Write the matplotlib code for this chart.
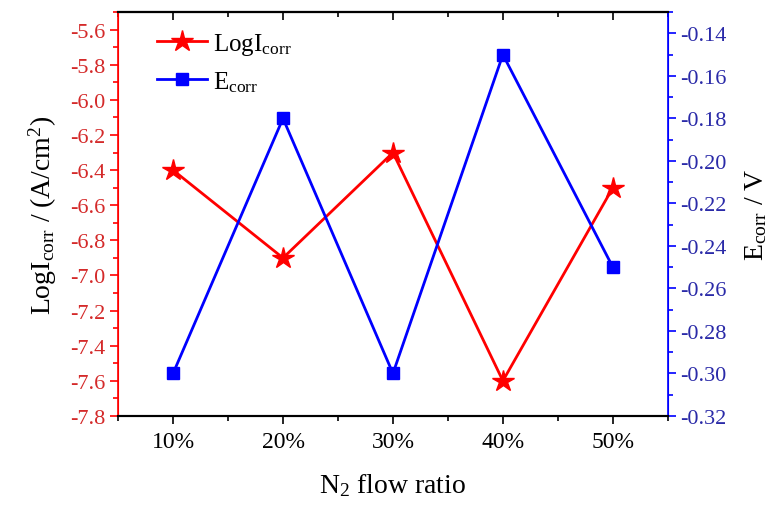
import matplotlib
matplotlib.use("Agg")
import matplotlib.pyplot as plt
from matplotlib.ticker import MultipleLocator, AutoMinorLocator

plt.rcParams['font.family'] = ['Liberation Serif', 'DejaVu Serif']
plt.rcParams['mathtext.fontset'] = 'custom'
plt.rcParams['mathtext.rm'] = 'Liberation Serif'
plt.rcParams['mathtext.it'] = 'Liberation Serif:italic'

ratios = ['10%', '20%', '30%', '40%', '50%']
log_icorr = [-6.4, -6.9, -6.3, -7.6, -6.5]
e_corr = [-0.30, -0.18, -0.30, -0.15, -0.25]

x = list(range(1, len(ratios) + 1))

fig = plt.figure(figsize=(7.82, 5.06), dpi=100)
ax = fig.add_subplot(111)
fig.subplots_adjust(left=0.151, right=0.854, top=0.974, bottom=0.176)
ax2 = ax.twinx()

l1, = ax.plot(x, log_icorr, color='red', lw=2, marker='*', ms=16,
              label=r'LogI$_{\mathrm{corr}}$')
l2, = ax2.plot(x, e_corr, color='blue', lw=2, marker='s', ms=9,
               label=r'E$_{\mathrm{corr}}$')

ax.set_xlim(0.5, 5.5)
ax.set_xticks(x)
ax.set_xticklabels(ratios)
ax.xaxis.set_minor_locator(MultipleLocator(0.5))
ax.set_ylim(-7.8, -5.5)
ax.yaxis.set_major_locator(MultipleLocator(0.2))
ax.yaxis.set_minor_locator(AutoMinorLocator(2))
ax2.set_ylim(-0.32, -0.13)
ax2.yaxis.set_major_locator(MultipleLocator(0.02))
ax2.yaxis.set_minor_locator(AutoMinorLocator(2))
ax.yaxis.set_major_formatter(plt.FuncFormatter(lambda v, p: '%.1f' % v))
ax2.yaxis.set_major_formatter(plt.FuncFormatter(lambda v, p: '%.2f' % v))

ax.tick_params(axis='x', which='both', direction='out', top=False, labelsize=17, color='black')
ax.tick_params(axis='x', which='major', length=6, width=1.2, pad=5)
ax.tick_params(axis='x', which='minor', length=3.5, width=1.2)
ax.tick_params(axis='y', which='both', colors='red', labelsize=16, width=1.2)
ax.tick_params(axis='y', which='major', length=6, pad=3)
ax.tick_params(axis='y', which='minor', length=3.5)
ax2.tick_params(axis='y', which='both', colors='blue', labelsize=16, width=1.2)
ax2.tick_params(axis='y', which='major', length=6, pad=3)
ax2.tick_params(axis='y', which='minor', length=3.5)
for lab in ax.get_yticklabels():
    lab.set_color('#d42a2a')
for lab in ax2.get_yticklabels():
    lab.set_color('#2a2aa8')

# top ticks pointing inward
sec = ax.secondary_xaxis('top')
sec.set_xticks(x)
sec.xaxis.set_minor_locator(MultipleLocator(0.5))
sec.tick_params(axis='x', which='both', direction='in', labeltop=False, width=1.2)
sec.tick_params(axis='x', which='major', length=6)
sec.tick_params(axis='x', which='minor', length=3.5)
sec.spines['top'].set_linewidth(1.5)

for s in ['top', 'bottom']:
    ax.spines[s].set_linewidth(1.5)
    ax2.spines[s].set_linewidth(1.5)
ax2.spines['left'].set_color('red')
ax2.spines['left'].set_linewidth(1.2)
ax2.spines['right'].set_color('blue')
ax2.spines['right'].set_linewidth(1.2)
ax.spines['left'].set_color('red')
ax.spines['right'].set_color('blue')

ax.set_xlabel(r'N$_2$ flow ratio', fontsize=20, labelpad=14)
ax.set_ylabel(r'LogI$_{\mathrm{corr}}$ / (A/cm$^2$)', fontsize=20, labelpad=8)
ax2.set_ylabel(r'E$_{\mathrm{corr}}$ / V', fontsize=20, labelpad=12)

ax.legend(handles=[l1, l2], loc='upper left', frameon=False, fontsize=18,
          bbox_to_anchor=(0.03, 1.01), handlelength=2.0, handletextpad=0.25,
          labelspacing=0.5)

fig.savefig('out.png', dpi=100)
